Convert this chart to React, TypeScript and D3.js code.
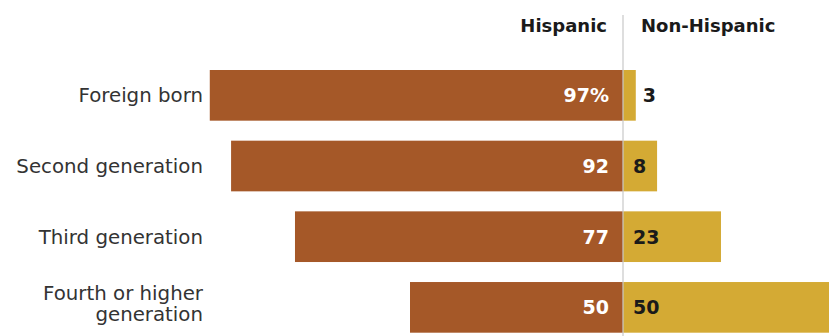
import React from "react";
import * as d3 from "d3";

const categories = ["Foreign born", "Second generation", "Third generation", "Fourth or higher generation"];
const categoryLines = [["Foreign born"], ["Second generation"], ["Third generation"], ["Fourth or higher", "generation"]];
const hispanic = [97, 92, 77, 50];
const nonHispanic = [3, 8, 23, 50];
const hispanicLabels = ["97%", "92", "77", "50"];
const nonHispanicLabels = ["3", "8", "23", "50"];
const headers = ["Hispanic", "Non-Hispanic"];

const W = 829;
const H = 336;
const CENTER = 623;
const BROWN = "#a55828";
const GOLD = "#d4aa34";
const FONT = "'DejaVu Sans', sans-serif";

export default function App() {
  const x = d3.scaleLinear().domain([0, 100]).range([0, 426]);
  const y = d3
    .scaleBand<string>()
    .domain(categories)
    .range([70, 332.7])
    .paddingInner(0.283)
    .paddingOuter(0);
  const bh = y.bandwidth();

  return (
    <svg
      width={W}
      height={H}
      style={{ position: "absolute", left: 0, top: 0, background: "#fff" }}
    >
      <text x={CENTER - 16} y={32} textAnchor="end" fontFamily={FONT} fontWeight="bold" fontSize={18} fill="#1a1a1a">
        {headers[0]}
      </text>
      <text x={CENTER + 18} y={32} textAnchor="start" fontFamily={FONT} fontWeight="bold" fontSize={18} fill="#1a1a1a">
        {headers[1]}
      </text>
      {categories.map((c, i) => {
        const y0 = y(c) as number;
        const cy = y0 + bh / 2;
        const lines = categoryLines[i];
        const lh = 21;
        const firstBase = cy + 7 - ((lines.length - 1) * lh) / 2 - (lines.length > 1 ? 4 : 0);
        const hx = CENTER - x(hispanic[i]);
        const nx = CENTER + x(nonHispanic[i]);
        const nLabelX = nonHispanic[i] < 5 ? nx + 7 : CENTER + 10;
        return (
          <g key={c}>
            <rect x={hx} y={y0} width={x(hispanic[i])} height={bh} fill={BROWN} />
            <rect x={CENTER} y={y0} width={x(nonHispanic[i])} height={bh} fill={GOLD} />
            {lines.map((l, j) => (
              <text key={j} x={203} y={firstBase + j * lh} textAnchor="end" fontFamily={FONT} fontSize={19.8} fill="#333">
                {l}
              </text>
            ))}
            <text x={CENTER - 14} y={cy + 7} textAnchor="end" fontFamily={FONT} fontWeight="bold" fontSize={19} fill="#fff">
              {hispanicLabels[i]}
            </text>
            <text x={nLabelX} y={cy + 7} textAnchor="start" fontFamily={FONT} fontWeight="bold" fontSize={19} fill="#1a1a1a">
              {nonHispanicLabels[i]}
            </text>
          </g>
        );
      })}
      <line x1={CENTER} x2={CENTER} y1={15} y2={H} stroke="#c8c8c8" strokeWidth={1.2} />
    </svg>
  );
}
